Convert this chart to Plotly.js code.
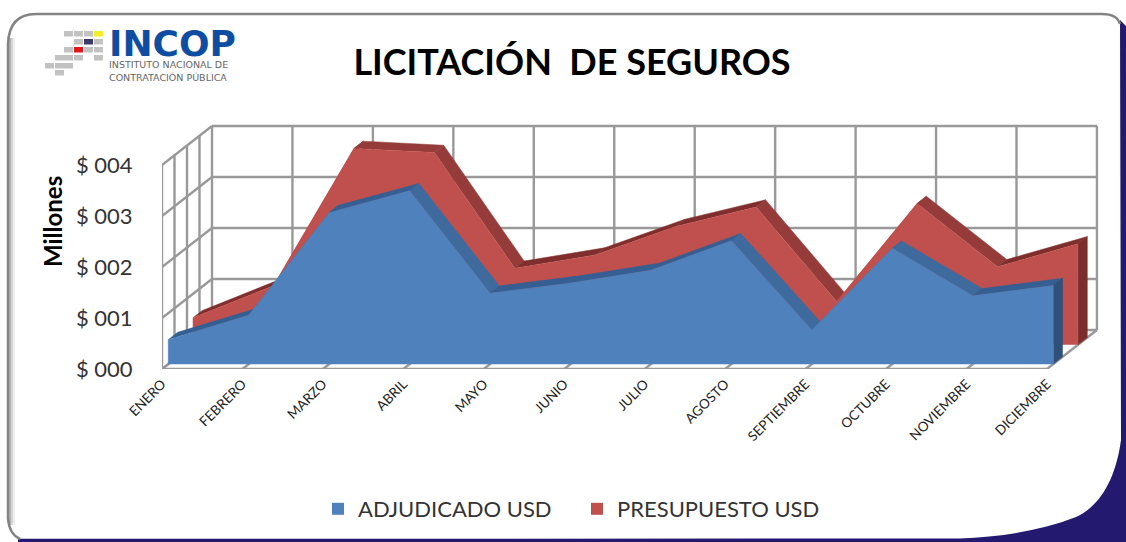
<!DOCTYPE html>
<html><head><meta charset="utf-8">
<script src="https://cdn.plot.ly/plotly-3.0.1.min.js"></script>
<style>html,body{margin:0;padding:0;background:#fff}#c{width:1126px;height:542px}</style></head>
<body><div id="c"></div>
<script>
const months = ['ENERO','FEBRERO','MARZO','ABRIL','MAYO','JUNIO','JULIO','AGOSTO','SEPTIEMBRE','OCTUBRE','NOVIEMBRE','DICIEMBRE'];
const adjudicado = [0.48,0.96,2.97,3.40,1.39,1.59,1.84,2.42,0.67,2.27,1.34,1.54];
const presupuesto = [0.53,1.16,3.85,3.77,1.50,1.76,2.32,2.70,0.85,2.77,1.53,1.98];
const yTicks = [0,1,2,3,4];
const yTickText = ['$ 000','$ 001','$ 002','$ 003','$ 004'];
const W=1126,H=542;
const L=162,R=21,T=120,B=173;
const pw=W-L-R,ph=H-T-B;
const xUnit=80.45,yUnit=51;
const depthX=50/xUnit,depthY=39/yUnit;
const PX=(i,v,d)=>i+d*depthX;
const PY=(i,v,d)=>v+d*depthY;
const fx=x=>(x-L)/pw, fy=y=>(H-B-y)/ph;
const GRID='#999999';
const traces=[];
function seg(xs,ys,w){traces.push({x:xs,y:ys,mode:'lines',line:{color:GRID,width:w||2.4},showlegend:false,hoverinfo:'skip'});}
// back wall and side wall
months.forEach((m,i)=>seg([PX(i,0,1),PX(i,0,1)],[PY(i,0,1),PY(i,4,1)]));
yTicks.forEach(v=>{seg([PX(0,v,1),PX(11,v,1)],[PY(0,v,1),PY(11,v,1)]);seg([PX(0,v,0),PX(0,v,1)],[PY(0,v,0),PY(0,v,1)]);});
[0,0.25,0.5,0.75].forEach(d=>seg([PX(0,0,d),PX(0,0,d)],[PY(0,0,d),PY(0,4,d)]));
// floor
months.forEach((m,i)=>seg([PX(i,0,0),PX(i,0,1)],[PY(i,0,0),PY(i,0,1)]));
seg([0,11],[0,0]);
function ribbon(vals,d0,d1,face,down,up,end,name){
  for(let i=0;i<vals.length-1;i++){
    const c=vals[i+1]<vals[i]?down:up;
    traces.push({x:[PX(i,0,d0),PX(i,0,d1),PX(i+1,0,d1),PX(i+1,0,d0)],
      y:[PY(i,vals[i],d0),PY(i,vals[i],d1),PY(i+1,vals[i+1],d1),PY(i+1,vals[i+1],d0)],
      mode:'lines',fill:'toself',fillcolor:c,line:{color:c,width:0.5},showlegend:false,hoverinfo:'skip'});
  }
  const n=vals.length-1;
  traces.push({x:[PX(n,0,d0),PX(n,0,d1),PX(n,0,d1),PX(n,0,d0)],
    y:[PY(n,0,d0),PY(n,0,d1),PY(n,vals[n],d1),PY(n,vals[n],d0)],
    mode:'lines',fill:'toself',fillcolor:end,line:{color:end,width:0.5},showlegend:false,hoverinfo:'skip'});
  const xs=vals.map((v,i)=>PX(i,v,d0)),ys=vals.map((v,i)=>PY(i,v,d0));
  traces.push({x:[PX(0,0,d0),...xs,PX(n,0,d0)],y:[PY(0,0,d0),...ys,PY(n,0,d0)],
    mode:'lines',fill:'toself',fillcolor:face,line:{color:face,width:0.5},showlegend:false,name:name,
    hovertemplate:name+'<extra></extra>'});
}
ribbon(presupuesto,0.62,0.807,'#c0504d','#953c3a','#7f2e2d','#7a2e2c','PRESUPUESTO USD');
ribbon(adjudicado,0.125,0.312,'#4f81bd','#3f6a9e','#355f92','#2f5078','ADJUDICADO USD');
traces.push({x:[null],y:[null],mode:'markers',marker:{symbol:'square',color:'#4f81bd',size:15},name:'ADJUDICADO USD',hoverinfo:'skip'});
traces.push({x:[null],y:[null],mode:'markers',marker:{symbol:'square',color:'#c0504d',size:15},name:'PRESUPUESTO USD',hoverinfo:'skip'});

// page decoration, given in pixels
const px=(x,y)=>fx(x).toFixed(5)+' '+fy(y).toFixed(5);
const band=(x0,x1,c)=>({type:'rect',xref:'paper',yref:'paper',layer:'below',x0:fx(x0),x1:fx(x1),y0:fy(525),y1:fy(38),fillcolor:c,line:{width:0}});
const shapes=[
 band(9,11,'#b4b4b4'),band(11,13,'#d6d6d6'),band(13,15,'#eeeeee'),
 {type:'path',xref:'paper',yref:'paper',layer:'below',fillcolor:'#231a6f',line:{width:0},
  path:`M${px(18,538.8)} L${px(960,538.5)} C${px(1000,537)} ${px(1040,531)} ${px(1076,517)} C${px(1096,508)} ${px(1115,485)} ${px(1121,440)} L${px(1120,20)} L${px(1126,26)} L${px(1126,542)} L${px(18,542)} Z`},
 {type:'path',xref:'paper',yref:'paper',layer:'below',fillcolor:'rgba(0,0,0,0)',line:{color:'#848484',width:2.5},
  path:`M${px(1120,24)} Q${px(1117,14)} ${px(1102,14)} L${px(36,14)} Q${px(9,14)} ${px(8,44)} L${px(8,518)} Q${px(9,534)} ${px(20,539)}`},
];
const logoRows=[[31,[64,74,84]],[39,[74,94]],[47,[64,84,94]],[55,[55,64,74,94]],[63,[45,55,64]],[70,[55]]];
const sq=(x,y,c)=>({type:'rect',xref:'paper',yref:'paper',layer:'below',x0:fx(x),x1:fx(x+9),y0:fy(y+5.5),y1:fy(y),fillcolor:c,line:{width:0}});
logoRows.forEach(r=>r[1].forEach(x=>shapes.push(sq(x,r[0],'#c2c2c2'))));
shapes.push(sq(94,31,'#f5ee2a'));shapes.push(sq(84,39,'#3c3a68'));shapes.push(sq(74,47,'#e3161c'));

const annotations=[
 {text:'<span style="font-size:36px;color:#0f4da2"><b>INCOP</b></span><br>INSTITUTO NACIONAL DE<br>CONTRATACIÓN PÚBLICA',align:'left',xref:'paper',yref:'paper',x:fx(107),y:fy(53),showarrow:false,xanchor:'left',yanchor:'middle',font:{family:'DejaVu Sans, sans-serif',size:9.5,color:'#666'}},
 {text:'<b>Millones</b>',xref:'paper',yref:'paper',x:fx(52),y:fy(222),textangle:-90,showarrow:false,xanchor:'center',yanchor:'middle',font:{family:'Lato, sans-serif',size:24,color:'#000'}},
];
const layout={
 width:W,height:H,autosize:false,showlegend:true,
 paper_bgcolor:'rgba(0,0,0,0)',plot_bgcolor:'rgba(0,0,0,0)',
 margin:{l:L,r:R,t:T,b:B,autoexpand:false,pad:0},
 title:{text:'<b>LICITACIÓN&nbsp; DE SEGUROS</b>',x:572/W,xanchor:'center',y:1-62/H,yanchor:'middle',font:{family:'Lato, sans-serif',size:36,color:'#000'}},
 xaxis:{range:[0,pw/xUnit],tickmode:'array',tickvals:months.map((m,i)=>i),ticktext:months,tickangle:-45,showgrid:false,zeroline:false,showline:false,ticks:'outside',ticklen:1,tickcolor:'rgba(0,0,0,0)',tickfont:{family:'Lato, sans-serif',size:13.5,color:'#222'}},
 yaxis:{range:[0,ph/yUnit],tickmode:'array',tickvals:yTicks,ticktext:yTickText,showgrid:false,zeroline:false,showline:false,ticks:'outside',ticklen:24,tickcolor:'rgba(0,0,0,0)',tickfont:{family:'Lato, sans-serif',size:22,color:'#333'}},
 legend:{orientation:'h',x:fx(318),xanchor:'left',y:fy(509),yanchor:'middle',itemsizing:'constant',entrywidth:214,entrywidthmode:'pixels',bgcolor:'rgba(0,0,0,0)',font:{family:'Lato, sans-serif',size:22,color:'#333'},traceorder:'normal'},
 shapes,annotations
};
Plotly.newPlot('c',traces,layout,{staticPlot:true,displayModeBar:false});
</script></body></html>
